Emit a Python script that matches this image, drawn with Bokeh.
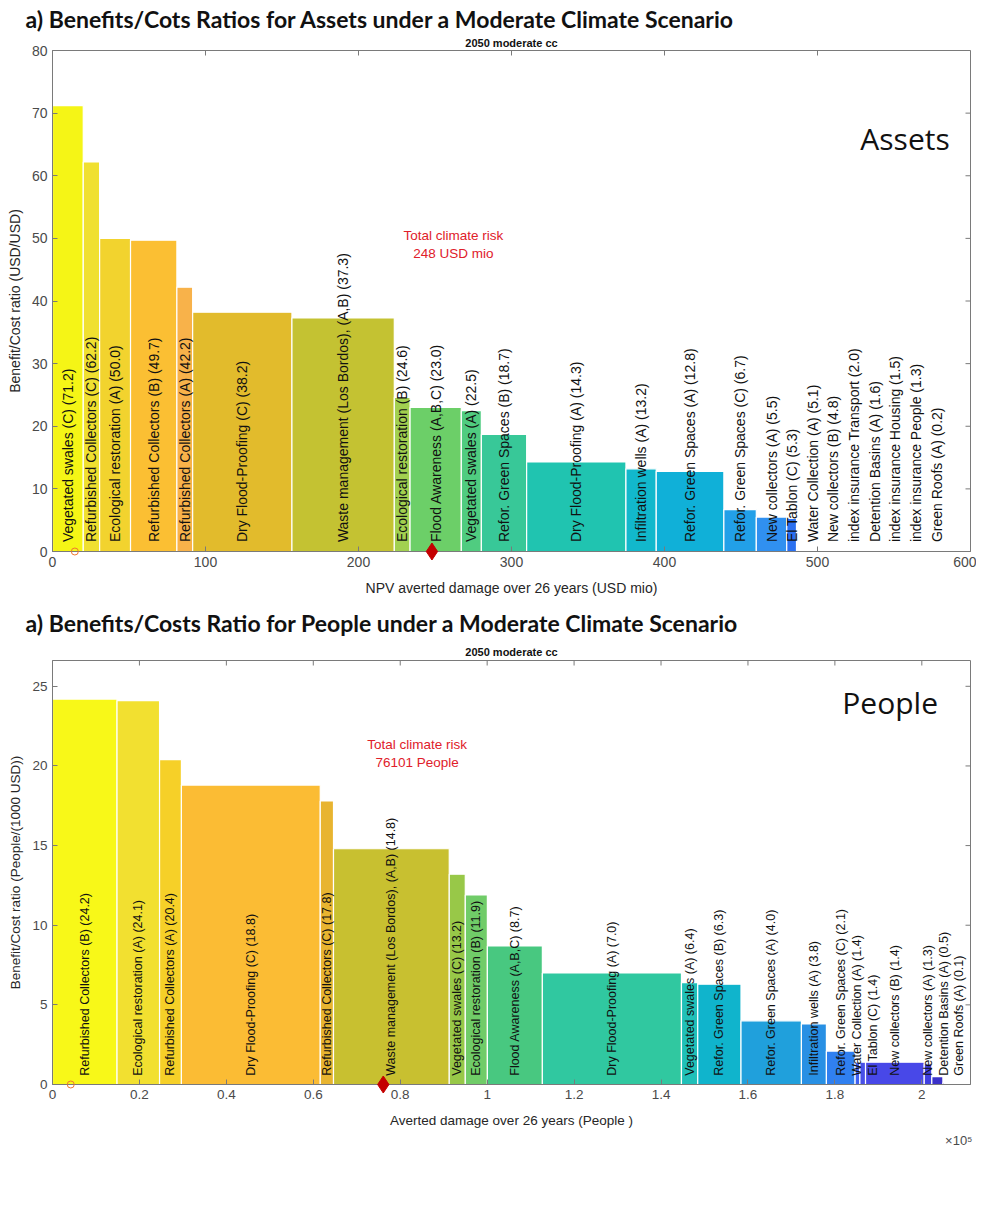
import numpy as np
from bokeh.plotting import figure
from bokeh.models import (ColumnDataSource, Range1d, FixedTicker, Title, Label)
from bokeh.layouts import column
from bokeh.embed import file_html
from bokeh.resources import INLINE
from bokeh.core.properties import value

# ---------------- data: assets ----------------
asset_measures = [
    "Vegetated swales (C)", "Refurbished Collectors (C)", "Ecological restoration (A)",
    "Refurbished Collectors (B)", "Refurbished Collectors (A)", "Dry Flood-Proofing (C)",
    "Waste management (Los Bordos), (A,B)", "Ecological restoration (B)",
    "Flood Awareness (A,B,C)", "Vegetated swales (A)", "Refor. Green Spaces (B)",
    "Dry Flood-Proofing (A)", "Infiltration wells (A)", "Refor. Green Spaces (A)",
    "Refor. Green Spaces (C)", "New collectors (A)", "El Tablon (C)",
    "Water Collection (A)", "New collectors (B)", "index insurance Transport",
    "Detention Basins (A)", "index insurance Housing", "index insurance People",
    "Green Roofs (A)"]
asset_averted = [20.1, 10.7, 20.2, 30.3, 10.3, 64.9, 66.9, 10.3, 33.5, 13.1, 29.6,
                 64.9, 19.8, 44.2, 21.2, 19.9, 6.4, 0.4, 0.4, 0.2, 0.3, 0.1, 0.1, 0.05]
asset_bcr = [71.2, 62.2, 50.0, 49.7, 42.2, 38.2, 37.3, 24.6, 23.0, 22.5, 18.7,
             14.3, 13.2, 12.8, 6.7, 5.5, 5.3, 5.1, 4.8, 2.0, 1.6, 1.5, 1.3, 0.2]
asset_total_risk = 248
asset_xticks = [0, 100, 200, 300, 400, 500, 600]
asset_yticks = [0, 10, 20, 30, 40, 50, 60, 70, 80]

# ---------------- data: people ----------------
people_measures = [
    "Refurbished Collectors (B)", "Ecological restoration (A)", "Refurbished Collectors (A)",
    "Dry Flood-Proofing (C)", "Refurbished Collectors (C)",
    "Waste management (Los Bordos), (A,B)", "Vegetated swales (C)",
    "Ecological restoration (B)", "Flood Awareness (A,B,C)", "Dry Flood-Proofing (A)",
    "Vegetated swales (A)", "Refor. Green Spaces (B)", "Refor. Green Spaces (A)",
    "Infiltration wells (A)", "Refor. Green Spaces (C)", "Water Collection (A)",
    "El Tablon (C)", "New collectors (B)", "New collectors (A)", "Detention Basins (A)",
    "Green Roofs (A)"]
people_averted = [14850, 9780, 5030, 31940, 3050, 26630, 3690, 5080, 12650, 32000,
                  3750, 9950, 13900, 5750, 6600, 1100, 1300, 13500, 1750, 2550, 350]
people_bcr = [24.2, 24.1, 20.4, 18.8, 17.8, 14.8, 13.2, 11.9, 8.7, 7.0, 6.4, 6.3,
              4.0, 3.8, 2.1, 1.4, 1.4, 1.4, 1.3, 0.5, 0.1]
people_total_risk = 76101
people_xticks = [0, 20000, 40000, 60000, 80000, 100000, 120000, 140000, 160000, 180000, 200000]
people_xtick_labels = ["0", "0.2", "0.4", "0.6", "0.8", "1", "1.2", "1.4", "1.6", "1.8", "2"]
people_yticks = [0, 5, 10, 15, 20, 25]

# ---------------- styles ----------------
asset_colors = ["#f5f516", "#f0e030", "#f2d32e", "#fbbf33", "#f8b24a", "#e2bb2c",
                "#c4c232", "#a2d050", "#6ccf68", "#50cc80", "#38c898", "#20c4b0",
                "#12b8cc", "#10b0d8", "#22a0e8", "#3090f0", "#2a70f0", "#3a5cf0",
                "#4050ea", "#4444e0", "#4038d0", "#3a30c8", "#3528b8", "#3020b0"]
people_colors = ["#f8f818", "#f2e030", "#f6d028", "#fbbc34", "#e8b430", "#c8c030",
                 "#98c848", "#70cc68", "#48c880", "#30c8a0", "#20c0b8", "#10b4cc",
                 "#20a0dc", "#2890e4", "#3080f0", "#4060f0", "#4850e8", "#4848e8",
                 "#4040e0", "#3a30c8", "#3020b0"]

FONT = "Liberation Sans"
TITLE_FONT = "Lato"
AX_COL = "#7a7a7a"
TXT_COL = "#262626"
W = 976


def make_chart(measures, averted, bcr, colors, xticks, yticks, xmax, ymax,
               label_gap, label_y, label_size, tick_size, title, xlabel, ylabel,
               total_risk, risk_text, risk_pos, corner_text, corner_pos, circle_x,
               height, top_border, bottom_border, sub_standoff, title_standoff,
               xlabel_standoff, tick_overrides=None, xscale_note=None):
    right = np.cumsum(averted)
    left = right - np.array(averted)
    centers = (left + right) / 2
    lab_x = []
    for c in centers:
        lab_x.append(c if not lab_x else max(c, lab_x[-1] + label_gap))
    texts = [f"{m}  ({v:.1f})" for m, v in zip(measures, bcr)]

    p = figure(width=W, height=height, output_backend="svg", toolbar_location=None,
               x_range=Range1d(0, xmax), y_range=Range1d(0, ymax),
               min_border_left=52, min_border_right=6, min_border_top=top_border,
               min_border_bottom=bottom_border)
    p.xgrid.visible = False
    p.ygrid.visible = False
    p.outline_line_color = AX_COL
    p.background_fill_color = "white"

    src = ColumnDataSource(dict(left=left, right=right, top=bcr, color=colors,
                                lx=lab_x, ly=[label_y] * len(bcr), text=texts))
    p.quad(left="left", right="right", bottom=0, top="top", fill_color="color",
           line_color="white", line_width=1.2, source=src)
    p.text(x="lx", y="ly", text="text", angle=np.pi / 2, text_align="left",
           text_baseline="middle", text_font=value(FONT), text_font_size=label_size,
           text_color="#111111", source=src)

    # inner ticks on the top and right edges of the box
    p.ray(x=xticks, y=[ymax] * len(xticks), length=5, length_units="screen",
          angle=-np.pi / 2, line_color=AX_COL, line_width=1)
    p.ray(x=[xmax] * len(yticks), y=yticks, length=5, length_units="screen",
          angle=np.pi, line_color=AX_COL, line_width=1)

    p.scatter([total_risk], [0], marker="diamond", size=17, fill_color="#c40000",
              line_color="#c40000", level="overlay")
    p.scatter([circle_x], [0], marker="circle", size=7, fill_color=None,
              line_color="#f07830", line_width=1, level="overlay")

    p.add_layout(Label(x=risk_pos[0], y=risk_pos[1], text=risk_text,
                       text_align="center", text_baseline="middle",
                       text_font=FONT, text_font_size="13.5px",
                       text_color="#e0202a"))
    p.add_layout(Label(x=corner_pos[0], y=corner_pos[1], text=corner_text,
                       text_align="left", text_baseline="middle",
                       text_font="Open Sans", text_font_size="30px",
                       text_color="#111111"))

    for ax, ticks in ((p.xaxis[0], xticks), (p.yaxis[0], yticks)):
        ax.ticker = FixedTicker(ticks=ticks)
        ax.axis_line_color = AX_COL
        ax.major_tick_line_color = AX_COL
        ax.major_tick_in = 5
        ax.major_tick_out = 0
        ax.minor_tick_line_color = None
        ax.major_label_text_font = FONT
        ax.major_label_text_font_size = tick_size
        ax.major_label_text_color = "#4a4a4a"
        ax.major_label_standoff = 5
        ax.axis_label_text_font = FONT
        ax.axis_label_text_font_size = tick_size
        ax.axis_label_text_font_style = "normal"
        ax.axis_label_text_color = TXT_COL
        ax.axis_label_standoff = 6
    p.xaxis[0].axis_label = xlabel
    p.xaxis[0].axis_label_standoff = xlabel_standoff
    p.yaxis[0].axis_label = ylabel
    if tick_overrides:
        p.xaxis[0].major_label_overrides = tick_overrides

    if xscale_note:
        p.add_layout(Title(text=xscale_note, align="right", text_font=FONT,
                           text_font_size="13px", text_font_style="normal",
                           text_color="#4a4a4a", offset=-2, standoff=0), "below")

    p.add_layout(Title(text="2050 moderate cc", align="center", text_font=FONT,
                       text_font_size="11px", text_font_style="bold",
                       text_color="#111111", standoff=sub_standoff), "above")
    p.add_layout(Title(text=title, align="left", text_font=TITLE_FONT,
                       text_font_size="23px", text_font_style="bold",
                       text_color="#111111", offset=-27,
                       standoff=title_standoff), "above")
    return p


p1 = make_chart(
    asset_measures, asset_averted, asset_bcr, asset_colors, asset_xticks, asset_yticks,
    600, 80, 13.5, 1.5, "14px", "14px",
    "a) Benefits/Cots Ratios for Assets under a Moderate Climate Scenario",
    "NPV averted damage over 26 years (USD mio)", "Benefit/Cost ratio (USD/USD)",
    asset_total_risk, f"Total climate risk\n{asset_total_risk} USD mio", (262, 49),
    "Assets", (528, 66), 14.6, 598, 50, 10, 3, 2, 10)

p2 = make_chart(
    people_measures, people_averted, people_bcr, people_colors, people_xticks,
    people_yticks, 211200, 26.62, 3600, 0.55, "12.5px", "13.5px",
    "a) Benefits/Costs Ratio for People under a Moderate Climate Scenario",
    "Averted damage over 26 years (People )", "Benefit/Cost ratio (People/(1000 USD))",
    people_total_risk, f"Total climate risk\n{people_total_risk} People", (83900, 20.8),
    "People", (181700, 24.0), 4200, 550, 62, 64, 6, 8, 11,
    tick_overrides={t: l for t, l in zip(people_xticks, people_xtick_labels)},
    xscale_note="\u00d710\u2075")

layout = column(p1, p2, spacing=0)
open("out.html", "w").write(file_html(layout, INLINE))
